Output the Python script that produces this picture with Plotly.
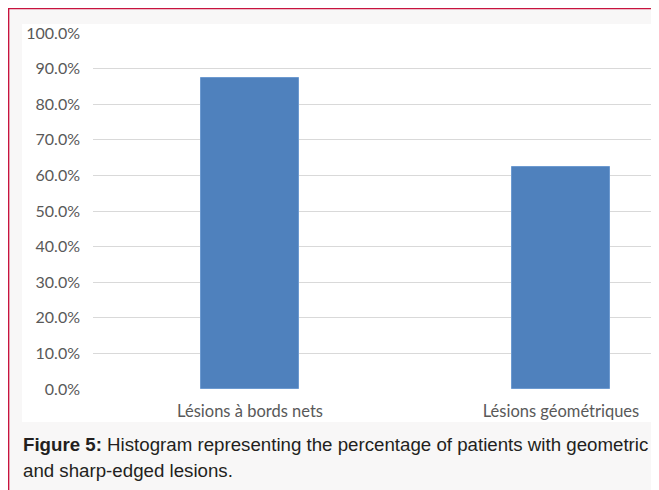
import plotly.graph_objects as go

categories = ["Lésions à bords nets", "Lésions géométriques"]
values = [0.875, 0.625]
tick_vals = [i / 10 for i in range(11)]
tick_text = [f"{v*100:.1f}%" for v in tick_vals]
caption_line1 = "<b>Figure 5:</b> Histogram representing the percentage of patients with geometric"
caption_line2 = "and sharp-edged lesions."

# page has an 8px body margin; figure sized to fit the window
OFF = 8
W, H = 659 - OFF, 490 - OFF
L, R, T, B = 85, 6, 25, 101
pw, ph = W - L - R, H - T - B

def px(x):
    return (x - OFF - L) / pw

def py(y):
    return (H - B - (y - OFF)) / ph

fig = go.Figure()
fig.add_trace(go.Bar(
    x=[0, 1], y=values, width=0.318,
    marker=dict(color="#4F81BD", line=dict(color="#6d9ad0", width=1)),
    hoverinfo="skip",
))

shapes = [
    dict(type="rect", xref="paper", yref="paper", x0=px(22), x1=px(654), y0=py(422), y1=py(24),
         fillcolor="#ffffff", line=dict(width=0), layer="below"),
    dict(type="line", xref="paper", yref="paper", x0=px(8), x1=px(660), y0=py(8.6), y1=py(8.6),
         line=dict(color="#c8133e", width=1.5)),
    dict(type="line", xref="paper", yref="paper", x0=px(8.6), x1=px(8.6), y0=py(8), y1=py(491),
         line=dict(color="#c8133e", width=1.5)),
]

fig.update_layout(
    width=W, height=H,
    margin=dict(l=L, r=R, t=T, b=B),
    paper_bgcolor="#f8f7f7",
    plot_bgcolor="rgba(0,0,0,0)",
    showlegend=False,
    bargap=0,
    shapes=shapes,
    xaxis=dict(
        range=[-0.505, 1.296], tickvals=[0, 1], ticktext=categories,
        showgrid=False, zeroline=False, showline=False, ticks="", ticklabelstandoff=10,
        tickfont=dict(family="Lato, Open Sans, sans-serif", size=16.5, color="#595959"),
    ),
    yaxis=dict(
        range=[0, 1], tickvals=tick_vals, ticktext=tick_text,
        showgrid=True, gridcolor="#d9d9d9", gridwidth=1,
        zeroline=False, showline=False, ticks="", ticklabelstandoff=12,
        tickfont=dict(family="Lato, Open Sans, sans-serif", size=16, color="#595959"),
    ),
    annotations=[
        dict(xref="paper", yref="paper", x=px(21), y=py(444), xanchor="left", yanchor="middle",
             align="left", showarrow=False, text=caption_line1,
             font=dict(family="Liberation Sans, Arial, sans-serif", size=18.7, color="#231f20")),
        dict(xref="paper", yref="paper", x=px(21), y=py(470), xanchor="left", yanchor="middle",
             align="left", showarrow=False, text=caption_line2,
             font=dict(family="Liberation Sans, Arial, sans-serif", size=18.7, color="#231f20")),
    ],
)

fig.write_html("out.html")
